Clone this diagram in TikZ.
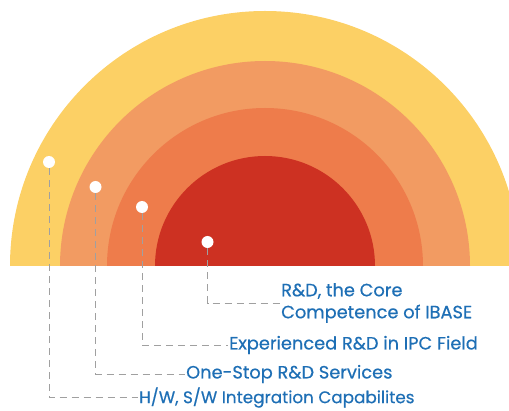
\documentclass[tikz,border=0pt]{standalone}
\usepackage{fontspec}
\setmainfont{Poppins}
\newfontfamily\labelfont{Poppins}[FakeBold=0.5]
\definecolor{ringA}{HTML}{FCD065}
\definecolor{ringB}{HTML}{F29B62}
\definecolor{ringC}{HTML}{EE7C4B}
\definecolor{ringD}{HTML}{CD3122}
\definecolor{labelblue}{HTML}{1E6FB5}
\definecolor{leadgray}{HTML}{A0A0A0}
\begin{document}
\begin{tikzpicture}[x=1pt, y=1pt,
	dot/.style={circle, fill=white, inner sep=0pt, minimum size=12pt},
	label/.style={anchor=west, inner sep=1pt, text=labelblue, font=\labelfont\fontsize{17.8}{22}\selectfont, align=left},
	lead/.style={draw=leadgray, line width=0.8pt, dash pattern=on 7pt off 5pt}]
	\useasboundingbox (0,0) rectangle (509,410);

	\fill
		[ringA] (10,144) arc (180:0:255) -- cycle;

	\fill
		[ringB] (60,144) arc (180:0:205) -- cycle;

	\fill
		[ringC] (107,144) arc (180:0:158) -- cycle;

	\fill
		[ringD] (155,144) arc (180:0:110) -- cycle;

	\node [dot] (hw) at (49, 248) {};
	\node [dot] (os) at (95.5, 223) {};
	\node [dot] (ex) at (142, 203) {};
	\node [dot] (co) at (207.5, 168) {};

	\node [label, font=\labelfont\fontsize{16.8}{22}\selectfont] (hwtext) at (138, 12.5) {H/W, S/W Integration Capabilites};
	\node [label] (ostext) at (185, 36) {One-Stop R\&D Services};
	\node [label] (extext) at (228, 65) {Experienced R\&D in IPC Field};
	\node [label] (cotext) at (280, 107) {R\&D, the Core\\Competence of IBASE};

	\draw [lead]
		(hw.south) |- (hwtext.west);

	\draw [lead]
		(os.south) |- (ostext.west);

	\draw [lead]
		(ex.south) |- (extext.west);

	\draw [lead]
		(co.south) |- (cotext.west);
\end{tikzpicture}
\end{document}
